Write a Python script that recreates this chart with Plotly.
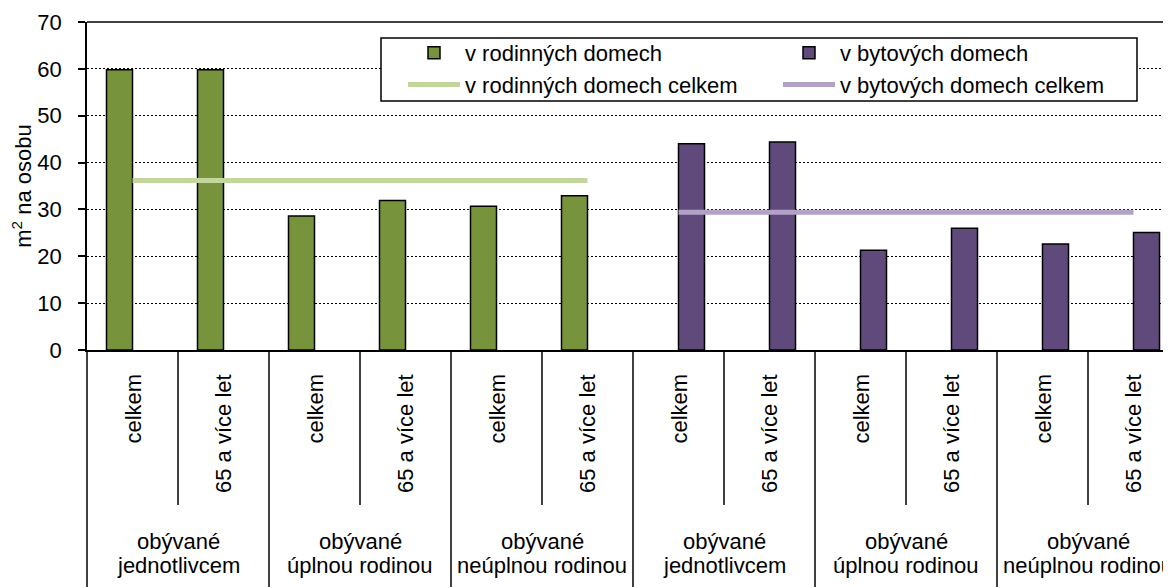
import plotly.graph_objects as go

# ---------------- data ----------------
sub_labels = ["celkem", "65 a více let", "celkem", "65 a více let", "celkem", "65 a více let",
              "celkem", "65 a více let", "celkem", "65 a více let", "celkem", "65 a více let"]
group_labels = ["obývané<br>jednotlivcem", "obývané<br>úplnou rodinou", "obývané<br>neúplnou rodinou",
                "obývané<br>jednotlivcem", "obývané<br>úplnou rodinou", "obývané<br>neúplnou rodinou"]
rodinne = [59.8, 59.8, 28.6, 31.9, 30.7, 32.9]
bytove = [44.0, 44.4, 21.3, 26.0, 22.6, 25.1]
rodinne_celkem = 36.2
bytove_celkem = 29.4
y_ticks = [0, 10, 20, 30, 40, 50, 60, 70]

series_names = ["v rodinných domech", "v bytových domech",
                "v rodinných domech celkem", "v bytových domech celkem"]

# positions on the category axis
x_all = list(range(len(sub_labels)))
x_rod = x_all[:len(rodinne)]
x_byt = x_all[len(rodinne):]

FONT = "Liberation Sans, Arial, sans-serif"
FS = 22
GREEN = "#77933C"
PURPLE = "#604A7B"
GREEN_L = "#C3D69B"
PURPLE_L = "#B3A2C7"

fig = go.Figure()
fig.add_bar(x=x_rod, y=rodinne, name=series_names[0], alignmentgroup="a", offsetgroup="rod",
            marker=dict(color=GREEN, line=dict(color="#000000", width=1.5)))
fig.add_bar(x=x_byt, y=bytove, name=series_names[1], alignmentgroup="a", offsetgroup="byt",
            marker=dict(color=PURPLE, line=dict(color="#000000", width=1.5)))
fig.add_scatter(x=[x_rod[0], x_rod[-1]], y=[rodinne_celkem, rodinne_celkem], mode="lines",
                name=series_names[2], line=dict(color=GREEN_L, width=5))
fig.add_scatter(x=[x_byt[0], x_byt[-1]], y=[bytove_celkem, bytove_celkem], mode="lines",
                name=series_names[3], line=dict(color=PURPLE_L, width=5))

# page body has an 8px margin: figure coords = screen coords - 8
OFF = 8
W, H = 1171 - OFF, 587 - OFF
ML, MT = 87 - OFF, 22 - OFF
MR = 0
MB = H - (350 - OFF)
plot_w = W - ML - MR
plot_h = H - MT - MB
cat_px = 91.0


def py(ypx):  # screen y -> paper
    return (350 - ypx) / plot_h


def px(xpx):  # screen x -> paper
    return (xpx - 87) / plot_w


shapes = []
# top border
shapes.append(dict(type="line", xref="paper", yref="paper", x0=0, x1=1, y0=1, y1=1,
                   line=dict(color="#000000", width=1.5), layer="above"))
# legend box
shapes.append(dict(type="rect", xref="paper", yref="paper",
                   x0=px(381), x1=px(1137), y0=py(101), y1=py(38),
                   fillcolor="white", line=dict(color="#000000", width=1.5), layer="above"))
# left divider below axis
shapes.append(dict(type="line", xref="paper", yref="paper", x0=0, x1=0, y0=0, y1=py(600),
                   line=dict(color="#000000", width=1.5)))
n_groups = len(group_labels)
for g in range(n_groups):
    xs = 2 * g + 0.5
    shapes.append(dict(type="line", xref="x", yref="paper", x0=xs, x1=xs, y0=0, y1=py(505),
                       line=dict(color="#000000", width=1.5)))
    if g > 0:
        xg = 2 * g - 0.5
        shapes.append(dict(type="line", xref="x", yref="paper", x0=xg, x1=xg, y0=0, y1=py(600),
                           line=dict(color="#000000", width=1.5)))

annotations = []
for i, lab in enumerate(sub_labels):
    annotations.append(dict(x=x_all[i], y=py(372), xref="x", yref="paper", text=lab,
                            textangle=-90, showarrow=False, yanchor="top", xanchor="center",
                            font=dict(family=FONT, size=FS, color="#000000")))
line_y = [541, 565]
for g, lab in enumerate(group_labels):
    for k, part in enumerate(lab.split("<br>")):
        annotations.append(dict(x=2 * g + 0.5, y=py(line_y[k]), xref="x", yref="paper", text=part,
                                showarrow=False, yanchor="middle", xanchor="center", align="center",
                                font=dict(family=FONT, size=FS, color="#000000")))

fig.update_layout(
    width=W, height=H,
    margin=dict(l=ML, r=MR, t=MT, b=MB, pad=0),
    template="none",
    paper_bgcolor="white", plot_bgcolor="white",
    font=dict(family=FONT, size=FS, color="#000000"),
    barmode="group", bargap=1 - 52 / 91, bargroupgap=0,
    showlegend=True,
    legend=dict(orientation="h", x=px(403), y=py(32), xanchor="left", yanchor="top",
                bgcolor="rgba(0,0,0,0)", borderwidth=0, entrywidth=308, entrywidthmode="pixels",
                itemwidth=52, traceorder="normal",
                font=dict(family=FONT, size=FS, color="#000000")),
    shapes=shapes,
    annotations=annotations,
)
fig.update_xaxes(range=[-0.5, -0.5 + plot_w / cat_px], showgrid=False, zeroline=False,
                 showline=True, linecolor="#000000", linewidth=1.5, ticks="",
                 showticklabels=False, automargin=False, fixedrange=True)
fig.update_yaxes(range=[0, 70], tickvals=y_ticks, showgrid=True, gridcolor="#000000",
                 griddash="2px,2px", gridwidth=1, zeroline=False, showline=True,
                 linecolor="#000000", linewidth=1.5, ticks="outside", ticklen=7,
                 tickcolor="#000000", tickwidth=1.5, ticklabelstandoff=12,
                 tickfont=dict(family=FONT, size=FS, color="#000000"),
                 title=dict(text="m<sup>2</sup> na osobu", standoff=8,
                            font=dict(family=FONT, size=FS, color="#000000")),
                 automargin=False, fixedrange=True)

fig.write_html("out.html")
